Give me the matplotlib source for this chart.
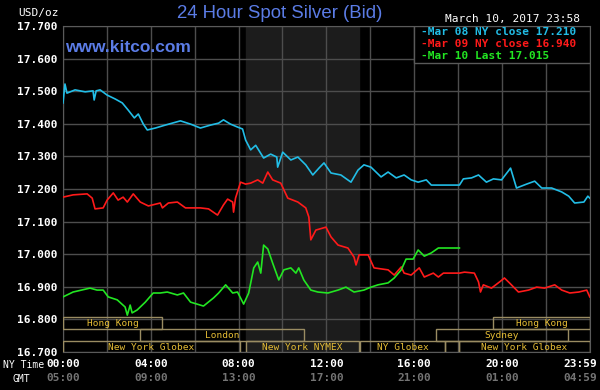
import matplotlib.pyplot as plt
from matplotlib.patches import Rectangle

# NY time in hours, spot price USD/oz
hours_08 = [0.00, 0.09, 0.18, 0.55, 1.01, 1.37, 1.42, 1.51, 1.69, 2.01, 2.38, 2.70, 2.97, 3.25, 3.43,
            3.66, 3.84, 4.21, 4.66, 5.35, 5.81, 6.26, 6.72, 7.09, 7.31, 7.63, 7.95, 8.18, 8.32, 8.55,
            8.78, 9.14, 9.46, 9.74, 9.78, 10.01, 10.38, 10.70, 11.06, 11.38, 11.66, 11.89, 12.21,
            12.66, 13.12, 13.44, 13.71, 14.03, 14.49, 14.81, 15.18, 15.54, 15.86, 16.18, 16.55,
            16.78, 18.06, 18.24, 18.61, 18.93, 19.29, 19.61, 19.98, 20.39, 20.66, 21.12, 21.49,
            21.81, 22.26, 22.72, 23.04, 23.31, 23.73, 23.91, 24.00]
price_08 = [17.464, 17.522, 17.494, 17.504, 17.498, 17.501, 17.473, 17.501, 17.504, 17.488, 17.476,
            17.464, 17.442, 17.418, 17.430, 17.399, 17.381, 17.387, 17.396, 17.409, 17.399, 17.387,
            17.396, 17.402, 17.412, 17.399, 17.390, 17.384, 17.350, 17.320, 17.334, 17.295, 17.307,
            17.298, 17.267, 17.313, 17.289, 17.298, 17.274, 17.243, 17.264, 17.280, 17.249, 17.243,
            17.221, 17.258, 17.274, 17.267, 17.237, 17.252, 17.234, 17.243, 17.228, 17.221, 17.228,
            17.212, 17.212, 17.231, 17.234, 17.243, 17.221, 17.231, 17.228, 17.264, 17.203, 17.215,
            17.224, 17.203, 17.203, 17.191, 17.178, 17.157, 17.160, 17.178, 17.172]

hours_09 = [0.00, 0.46, 1.10, 1.33, 1.46, 1.83, 2.01, 2.29, 2.51, 2.74, 2.93, 3.20, 3.52, 3.89, 4.43,
            4.53, 4.80, 5.21, 5.58, 6.26, 6.63, 7.04, 7.31, 7.50, 7.73, 7.77, 7.86, 8.09, 8.32, 8.55,
            8.87, 9.10, 9.33, 9.55, 9.92, 10.24, 10.70, 11.06, 11.20, 11.29, 11.52, 11.98, 12.21,
            12.53, 12.98, 13.26, 13.35, 13.49, 13.90, 14.17, 14.81, 15.09, 15.41, 15.54, 15.86,
            16.23, 16.46, 16.87, 17.10, 17.33, 18.06, 18.29, 18.74, 18.93, 19.02, 19.15, 19.52,
            19.89, 20.11, 20.34, 20.75, 21.21, 21.58, 21.94, 22.40, 22.72, 23.09, 23.50, 23.86, 24.00]
price_09 = [17.175, 17.182, 17.185, 17.172, 17.139, 17.142, 17.166, 17.188, 17.166, 17.175, 17.160,
            17.185, 17.160, 17.148, 17.157, 17.142, 17.157, 17.160, 17.142, 17.142, 17.139, 17.120,
            17.151, 17.169, 17.160, 17.129, 17.172, 17.221, 17.215, 17.218, 17.228, 17.218, 17.252,
            17.228, 17.218, 17.172, 17.160, 17.142, 17.114, 17.044, 17.074, 17.083, 17.053, 17.028,
            17.019, 16.991, 16.967, 16.998, 16.998, 16.958, 16.952, 16.936, 16.961, 16.942, 16.936,
            16.958, 16.930, 16.942, 16.930, 16.942, 16.942, 16.945, 16.942, 16.915, 16.884, 16.906,
            16.896, 16.915, 16.927, 16.912, 16.884, 16.890, 16.899, 16.896, 16.906, 16.890, 16.881,
            16.884, 16.890, 16.869]

hours_10 = [0.00, 0.46, 1.23, 1.55, 1.83, 2.06, 2.47, 2.83, 2.93, 3.06, 3.15, 3.38, 3.75, 4.11, 4.43,
            4.75, 5.21, 5.49, 5.81, 6.40, 6.86, 7.09, 7.41, 7.73, 7.95, 8.23, 8.46, 8.69, 8.87, 9.01,
            9.14, 9.33, 9.55, 9.83, 10.06, 10.38, 10.61, 10.74, 10.97, 11.29, 11.61, 12.07, 12.53,
            12.89, 13.26, 13.71, 14.03, 14.35, 14.81, 15.09, 15.41, 15.63, 15.95, 16.18, 16.46,
            16.78, 17.10, 18.06]
price_10 = [16.869, 16.884, 16.896, 16.890, 16.890, 16.869, 16.860, 16.838, 16.813, 16.844, 16.820,
            16.829, 16.853, 16.881, 16.881, 16.884, 16.875, 16.881, 16.853, 16.841, 16.866, 16.881,
            16.906, 16.881, 16.884, 16.847, 16.881, 16.958, 16.976, 16.942, 17.028, 17.016, 16.973,
            16.921, 16.952, 16.958, 16.942, 16.958, 16.921, 16.890, 16.884, 16.881, 16.890, 16.899,
            16.884, 16.890, 16.899, 16.906, 16.912, 16.927, 16.952, 16.985, 16.985, 17.013, 16.994,
            17.004, 17.019, 17.019]

legend_labels = ['Mar 08 NY close 17.210', 'Mar 09 NY close 16.940', 'Mar 10 Last 17.015']
colors = ['#22bde6', '#ff1a1a', '#22e622']

ny_ticks = [0, 4, 8, 12, 16, 20, 24]
ny_labels = ['00:00', '04:00', '08:00', '12:00', '16:00', '20:00', '23:59']
gmt_labels = ['05:00', '09:00', '13:00', '17:00', '21:00', '01:00', '04:59']

# market sessions: name, start, end, row (0 = top)
sessions = [('Hong Kong', 0, 4.5, 0), ('London', 3.5, 11.0, 1), ('New York Globex', 0, 8.05, 2),
            ('New York NYMEX', 8.33, 13.5, 2), ('NY Globex', 13.55, 17.4, 2), ('', 17.4, 18.05, 2),
            ('New York Globex', 18.05, 24, 2), ('Sydney', 17.0, 23.0, 1), ('Hong Kong', 19.6, 24, 0)]
nymex_open, nymex_close = 8.33, 13.5

mono = 'DejaVu Sans Mono'
blue = '#5b7ce6'

fig = plt.figure(figsize=(6, 3.9), dpi=100, facecolor='black')
ax = fig.add_axes([0.105, 0.0974, 0.878, 0.836], facecolor='black')

ax.axvspan(nymex_open, nymex_close, color='#1c1c1c', zorder=0)
ax.set_xlim(0, 24)
ax.set_ylim(16.7, 17.7)
ax.set_xticks(range(0, 25, 2))
ax.set_xticklabels([])
ax.set_yticks([16.7 + 0.1 * i for i in range(11)])
ax.set_yticklabels(['%.3f' % (16.7 + 0.1 * i) for i in range(11)], family=mono, weight='bold',
                   fontsize=8, color='white')
ax.tick_params(length=0)
ax.tick_params(axis='y', pad=4)
ax.grid(True, color='#4d4d4d', lw=1, zorder=1)
ax.set_axisbelow(True)
for s in ax.spines.values():
    s.set_color('#5a5a5a')

ax.plot(hours_08, price_08, color=colors[0], lw=1.2, zorder=3)
ax.plot(hours_09, price_09, color=colors[1], lw=1.2, zorder=3)
ax.plot(hours_10, price_10, color=colors[2], lw=1.2, zorder=3)

row_h = 0.0365
for name, start, end, row in sessions:
    y0 = 16.697 + (2 - row) * row_h
    ax.add_patch(Rectangle((start, y0), end - start, row_h, fill=False, edgecolor='#9a8c62',
                           lw=1, zorder=4))
    ax.text((start + end) / 2, y0 + row_h / 2, name, color='#e6bd35', family=mono,
            fontsize=6.8, ha='center', va='center', zorder=5)

# legend box
ax.add_patch(Rectangle((0.666, 0.886), 0.334, 0.114, transform=ax.transAxes, facecolor='black',
                       edgecolor='#5a5a5a', lw=1, zorder=6))
for i, (lab, c) in enumerate(zip(legend_labels, colors)):
    yy = 1 - (32 + 12 * i) / 390
    fig.text(421 / 600, yy, '-' + lab, color=c, family=mono, weight='bold', fontsize=8,
             va='center', zorder=7)

# time axis labels, NY time and GMT; the last pair is pulled inside the frame
xt = ax.get_xaxis_transform()
for t, ny, g in zip(ny_ticks, ny_labels, gmt_labels):
    tx = min(t, 23.55)
    ax.text(tx, -0.037, ny, transform=xt, color='white', family=mono, weight='bold',
            fontsize=8, ha='center', va='center')
    ax.text(tx, -0.08, g, transform=xt, color='#747474', family=mono, weight='bold',
            fontsize=8, ha='center', va='center')

fig.text(280 / 600, 1 - 14 / 390, '24 Hour Spot Silver (Bid)', color=blue, family='Liberation Sans',
         fontsize=13.4, ha='center', va='center')
fig.text(65 / 600, 1 - 47 / 390, 'www.kitco.com', color=blue, family='Liberation Sans',
         weight='bold', fontsize=12.5, ha='left', va='center')
fig.text(59 / 600, 1 - 13 / 390, 'USD/oz', color='white', family=mono, fontsize=8, ha='right',
         va='center')
fig.text(580 / 600, 1 - 19 / 390, 'March 10, 2017 23:58', color='white', family=mono, fontsize=8,
         ha='right', va='center')
fig.text(3 / 600, 1 - 365 / 390, 'NY Time', color='white', family=mono, fontsize=7, ha='left',
         va='center')
fig.text(21 / 600, 1 - 379 / 390, 'GMT', color='white', family=mono, fontsize=7, ha='center',
         va='center')

fig.savefig('out.png', dpi=100, facecolor='black')
